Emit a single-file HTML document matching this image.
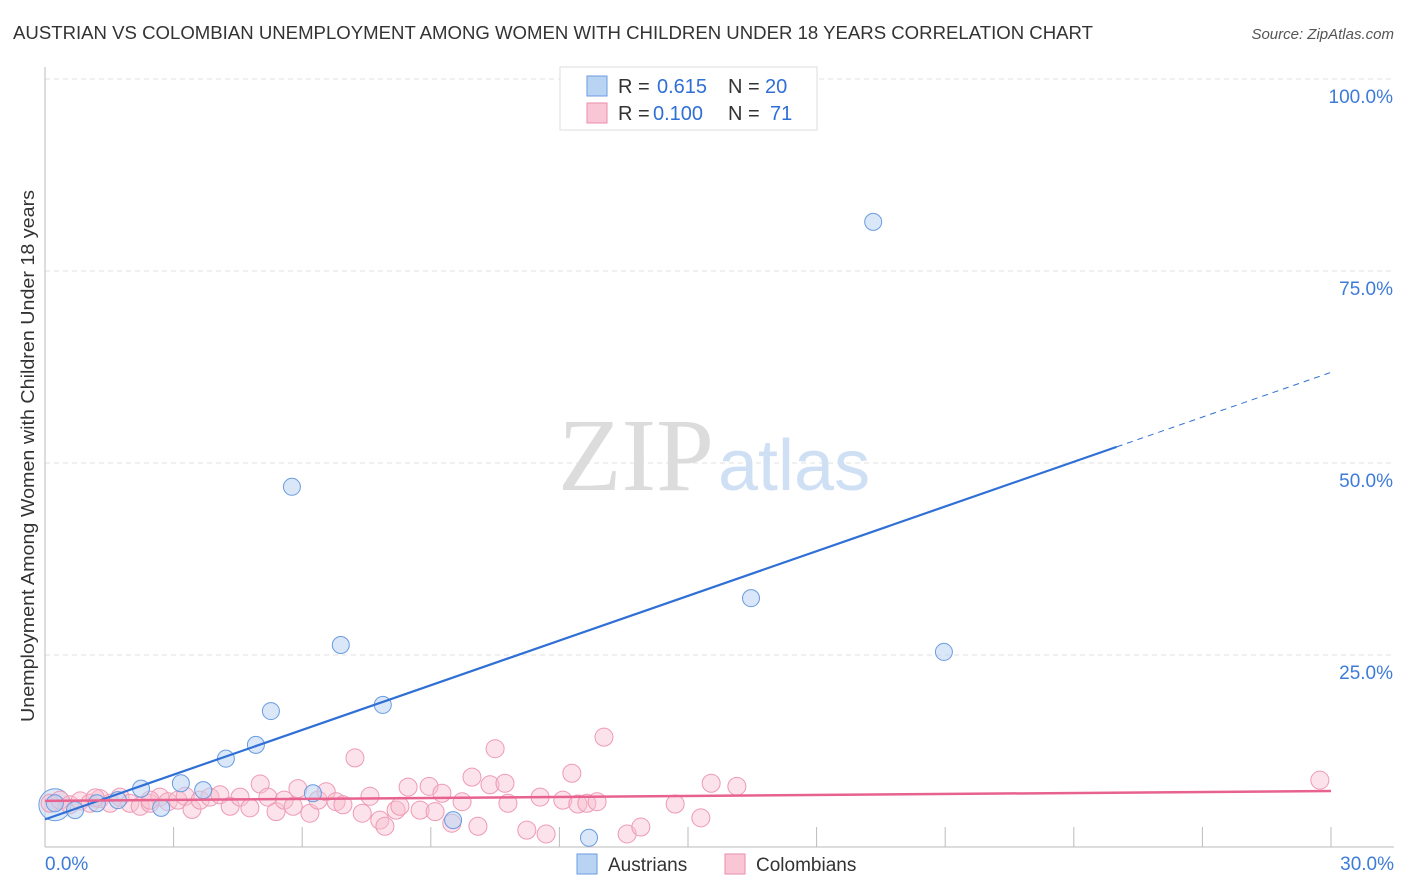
<!DOCTYPE html>
<html><head><meta charset="utf-8"><style>
body{margin:0;background:#fff;font-family:"Liberation Sans",sans-serif}
svg{display:block}
</style></head><body>
<svg id="c" width="1406" height="892" xmlns="http://www.w3.org/2000/svg">
<text x="13" y="39" font-size="18" fill="#333" textLength="1080" lengthAdjust="spacingAndGlyphs">AUSTRIAN VS COLOMBIAN UNEMPLOYMENT AMONG WOMEN WITH CHILDREN UNDER 18 YEARS CORRELATION CHART</text>
<text x="1394" y="39" font-size="15" fill="#555" font-style="italic" text-anchor="end">Source: ZipAtlas.com</text>
<text transform="translate(34,456) rotate(-90)" font-size="18" fill="#333" text-anchor="middle" textLength="532" lengthAdjust="spacingAndGlyphs">Unemployment Among Women with Children Under 18 years</text>
<g id="grid"></g>
<text x="714" y="490" font-size="104" font-family="Liberation Serif,serif" fill="#dcdcdc" text-anchor="end">ZIP</text>
<text x="718" y="490" font-size="72" fill="#cfe0f5">atlas</text>
<g id="pts"></g>
<g id="lines"></g>
<g font-size="20">
<rect x="560" y="67" width="257" height="63" fill="#fff" stroke="#ddd"/>
<rect x="587" y="76" width="20" height="20" fill="#b9d3f3" stroke="#6a9be0"/>
<rect x="587" y="103" width="20" height="20" fill="#f9c6d6" stroke="#ea8eab"/>
<text x="618" y="93" fill="#333">R =</text><text x="657" y="93" fill="#2f6fd6">0.615</text>
<text x="728" y="93" fill="#333">N =</text><text x="765" y="93" fill="#2f6fd6">20</text>
<text x="618" y="120" fill="#333">R =</text><text x="653" y="120" fill="#2f6fd6">0.100</text>
<text x="728" y="120" fill="#333">N =</text><text x="770" y="120" fill="#2f6fd6">71</text>
</g>
<g>
<rect x="577" y="854" width="20" height="20" fill="#b9d3f3" stroke="#6a9be0"/>
<text x="608" y="871" font-size="19" fill="#333">Austrians</text>
<rect x="725" y="854" width="20" height="20" fill="#f9c6d6" stroke="#ea8eab"/>
<text x="756" y="871" font-size="19" fill="#333">Colombians</text>
</g>
</svg>
<script>
const xTicks=[0,3,6,9,12,15,18,21,24,27,30];
const yTicks=[25,50,75,100];
const yTickLabels=["25.0%","50.0%","75.0%","100.0%"];
const ausX=[0.23,0.70,1.21,1.70,2.24,2.71,3.17,3.69,4.22,4.92,5.27,5.76,6.25,6.90,7.88,9.52,12.69,16.47,19.32,20.97];
const ausY=[5.7,4.8,5.7,6.1,7.6,5.1,8.3,7.4,11.5,13.3,17.7,46.9,7.0,26.3,18.5,3.5,1.2,32.4,81.4,25.4];
const colPx=[50,60,70,80,90,100,110,120,130,140,150,160,168,178,185,192,200,210,220,230,240,250,260,268,276,284,293,298,310,318,326,336,343,355,362,370,380,385,396,400,408,420,429,435,442,452,462,472,478,490,495,505,508,527,540,546,563,572,578,587,597,604,627,641,675,701,711,737,1320,95,150];
const colPy=[803,800,805,801,803,799,803,797,803,806,803,797,802,800,796,809,800,797,795,806,797,808,784,797,812,800,806,789,813,800,792,802,805,758,813,796,820,826,810,806,787,810,786,812,793,823,802,777,826,785,749,783,803,830,797,834,800,773,804,803,802,737,834,827,804,818,783,786,780,798,800];
const colX=colPx.map(p=>+((p-45)*30/1286).toFixed(2));
const colY=colPy.map(p=>+((847-p)/7.68).toFixed(1));
const ausFit=[3.6,1.94];
const colFit=[6.0,0.043];
const X=v=>45+v/30*1286, Y=v=>847-v*7.68;
const NS="http://www.w3.org/2000/svg";
function mk(t,a,p){const e=document.createElementNS(NS,t);for(const k in a)e.setAttribute(k,a[k]);p.appendChild(e);return e;}
const g=document.getElementById('grid');
yTicks.forEach((t,i)=>{
const l=mk('line',{x1:45,x2:1394,y1:Y(t),y2:Y(t),stroke:'#e2e2e2','stroke-dasharray':'5,4'},g);


const tx=mk('text',{x:1393,y:Y(t)+24,'font-size':19,fill:'#3d7bd9','text-anchor':'end'},g);tx.textContent=yTickLabels[i];


});
mk('line',{x1:45,x2:45,y1:67,y2:847,stroke:'#bbb'},g);
mk('line',{x1:45,x2:1394,y1:847,y2:847,stroke:'#bbb'},g);
xTicks.forEach(t=>{if(t>0){const l=mk('line',{x1:X(t),x2:X(t),y1:827,y2:847,stroke:'#bbb'},g);

}});
[["0.0%",45,'start'],["30.0%",1394,'end']].forEach(a=>{const t=mk('text',{x:a[1],y:870,'font-size':19,fill:'#3d7bd9','text-anchor':a[2]},g);t.textContent=a[0];

});
const p=document.getElementById('pts');
const big=mk('circle',{cx:X(0.23),cy:Y(5.5),r:16,fill:'rgba(185,211,243,0.5)',stroke:'#6a9be0'},p);


colX.forEach((x,i)=>{const c=mk('circle',{cx:X(x),cy:Y(colY[i]),r:9,fill:'rgba(249,190,208,0.45)',stroke:'#ee9ab5','stroke-width':1},p);

});
ausX.forEach((x,i)=>{const c=mk('circle',{cx:X(x),cy:Y(ausY[i]),r:8.5,fill:'rgba(185,211,243,0.55)',stroke:'#6a9be0','stroke-width':1},p);

});
const L=document.getElementById('lines');
const f=(fit,x)=>fit[0]+fit[1]*x;
let a=mk('line',{x1:X(0),y1:Y(f(ausFit,0)),x2:X(25),y2:Y(f(ausFit,25)),stroke:'#2f6fd6','stroke-width':2.2},L);


a=mk('line',{x1:X(25),y1:Y(f(ausFit,25)),x2:X(30),y2:Y(f(ausFit,30)),stroke:'#2f6fd6','stroke-width':1,'stroke-dasharray':'6,5'},L);


a=mk('line',{x1:X(0),y1:Y(f(colFit,0)),x2:X(30),y2:Y(f(colFit,30)),stroke:'#e8628f','stroke-width':2.5},L);


</script>
</body></html>
